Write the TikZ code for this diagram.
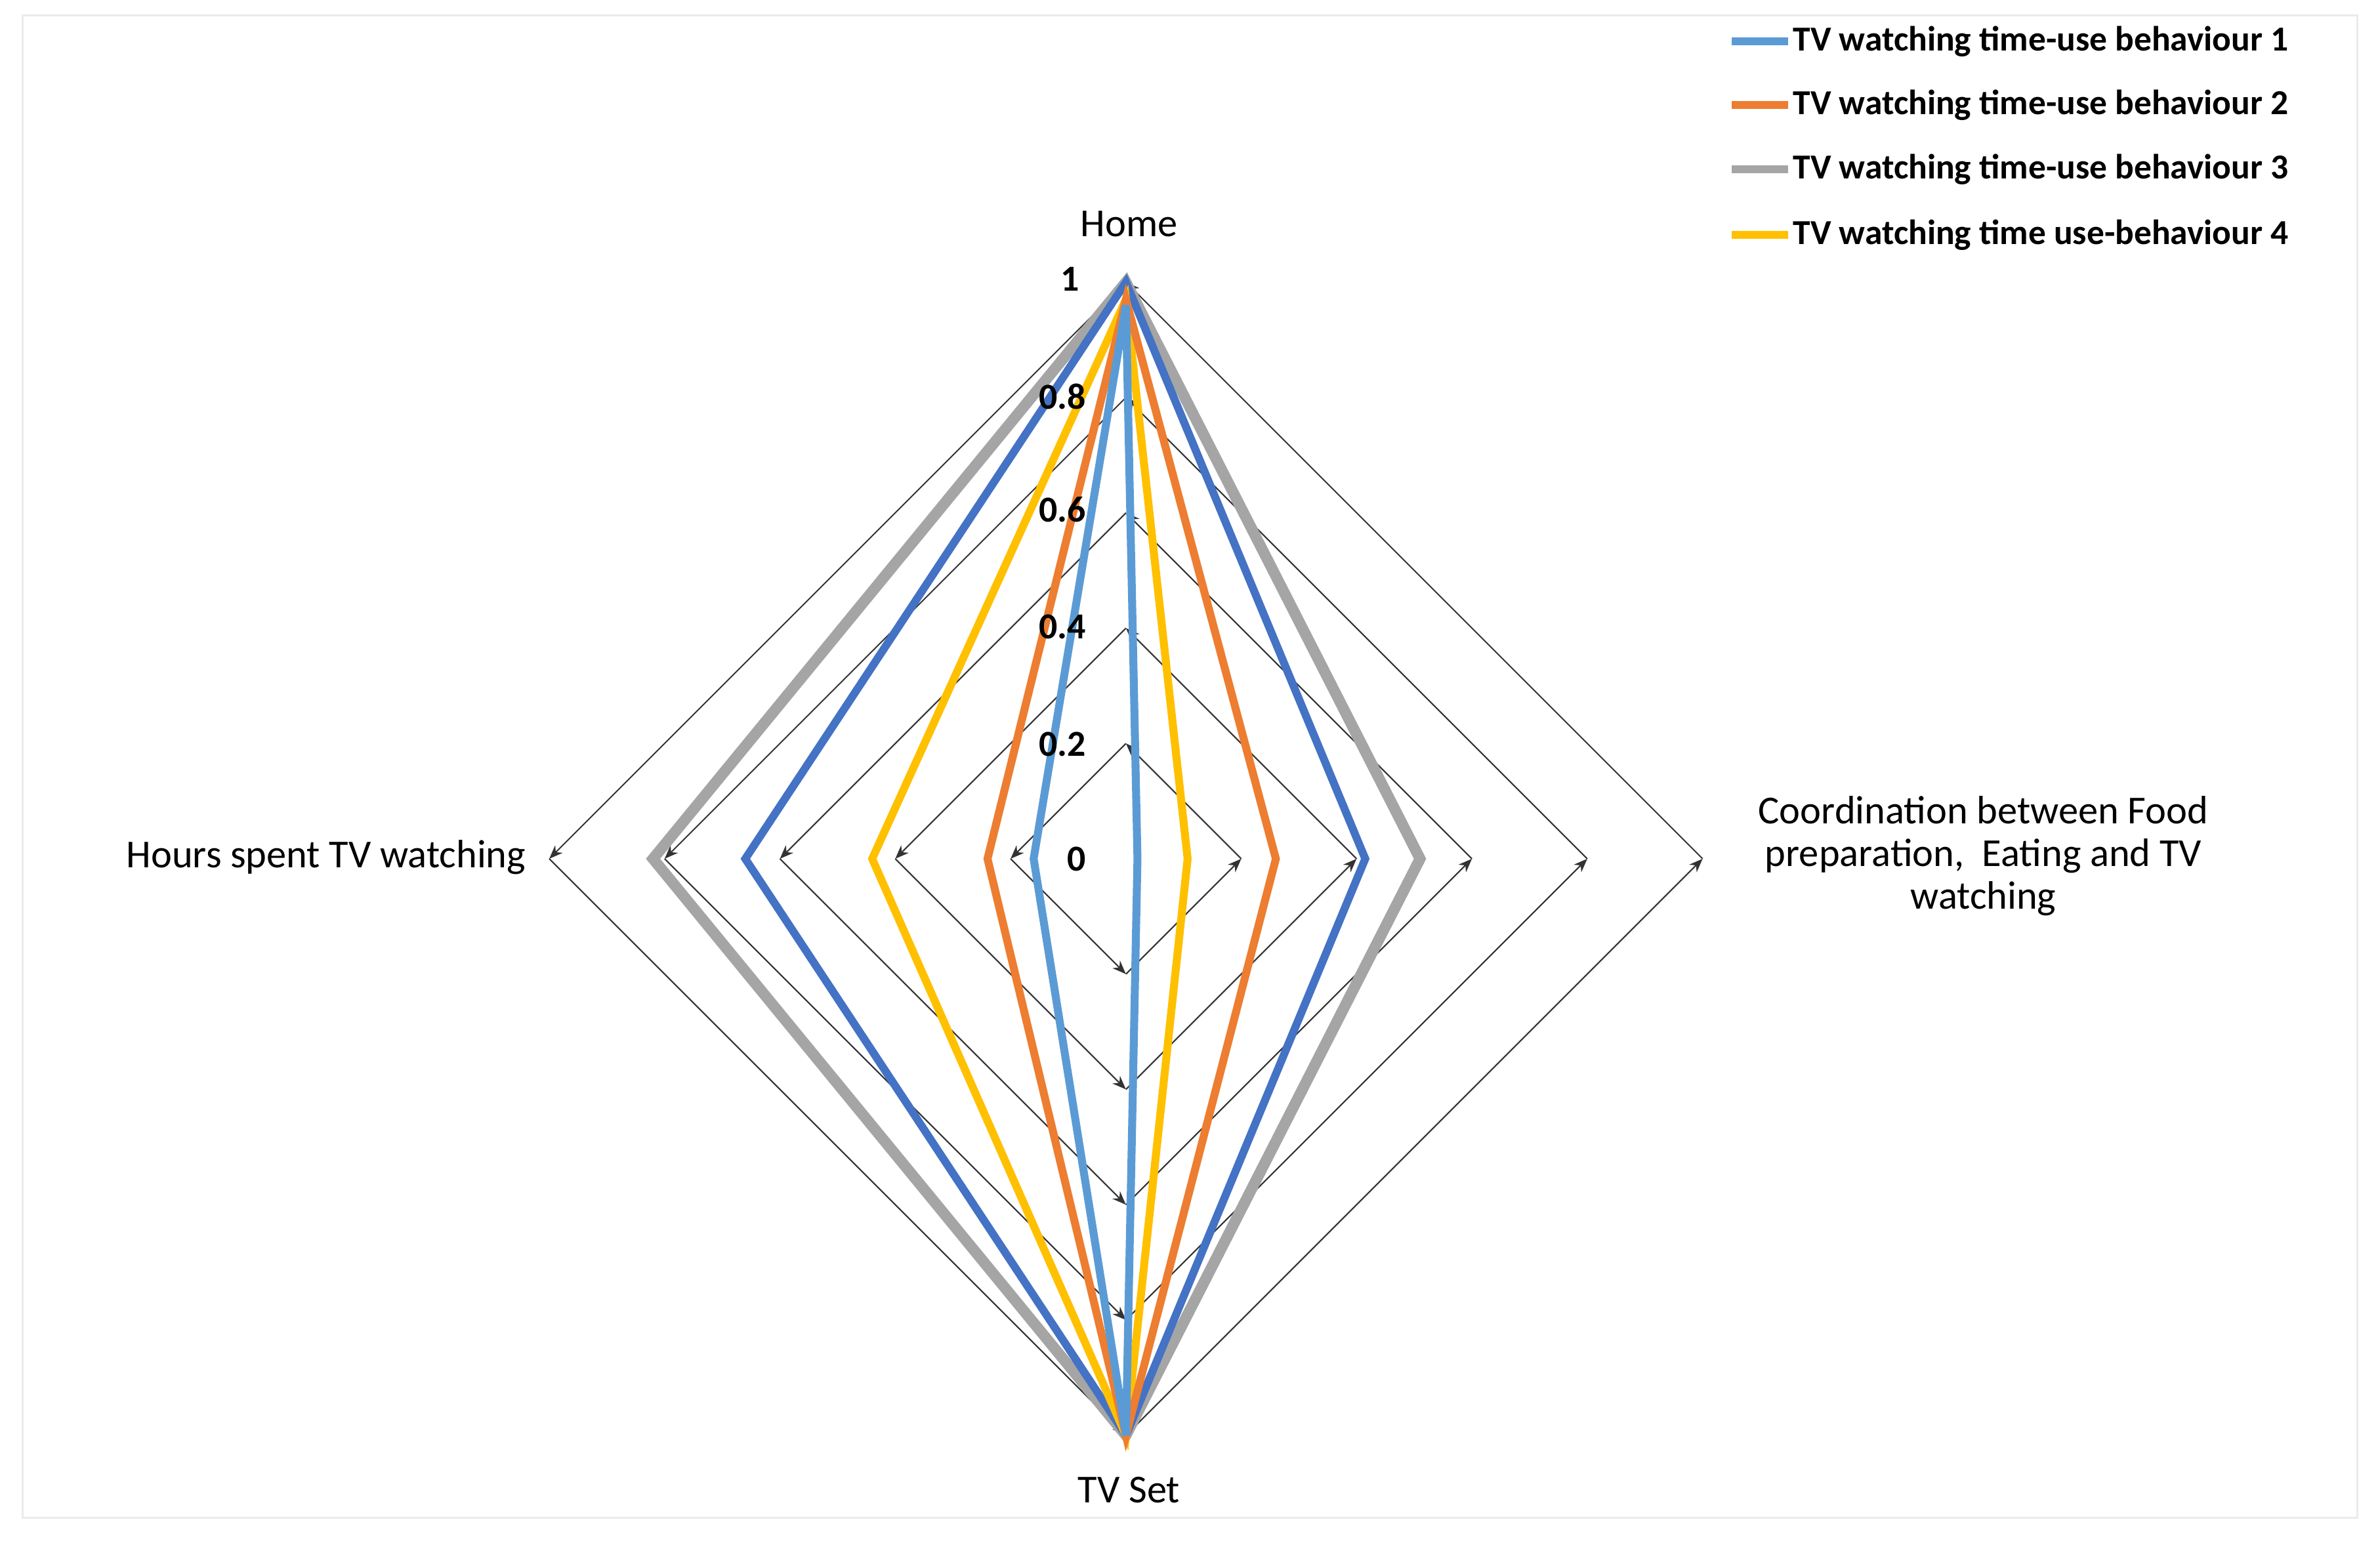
\documentclass[tikz,border=0pt]{standalone}
\usepackage{fontspec}
\setmainfont{Carlito}
\usetikzlibrary{arrows.meta,calc}
\definecolor{sone}{HTML}{5B9BD5}
\definecolor{stwo}{HTML}{ED7D31}
\definecolor{sthree}{HTML}{A5A5A5}
\definecolor{sfour}{HTML}{FFC000}
\definecolor{sdark}{HTML}{4472C4}
\begin{document}
\begin{tikzpicture}[x=0.5pt,y=0.5pt,
  grid/.style={draw=black!80,line width=0.45pt,-{Stealth[length=4.5pt,width=3.5pt]}},
  series/.style={line width=2.6pt,line join=miter,miter limit=10},
  lbl/.style={font=\fontsize{13}{15}\selectfont},
  tick/.style={font=\fontsize{12}{14}\selectfont\bfseries,anchor=east,inner sep=0pt},
  leg/.style={font=\fontsize{11.5}{13}\selectfont\bfseries,anchor=west,inner sep=0pt},
  legline/.style={line width=2.6pt}]
\useasboundingbox (0,0) rectangle (1560,1014);
\fill[white] (0,0) rectangle (1560,1014);
\draw[black!8,line width=0.6pt] (15,19) rectangle (1545,1004);
\coordinate (C) at (738,451);
\def\R{378}
% grid
\foreach \k in {1,...,5}{
  \pgfmathsetmacro{\r}{\R*\k/5}
  \coordinate (t\k) at ($(C)+(0,\r)$);
  \coordinate (l\k) at ($(C)+(-\r,0)$);
  \coordinate (b\k) at ($(C)+(0,-\r)$);
  \coordinate (r\k) at ($(C)+(\r,0)$);
  \draw[grid] (r\k) -- (t\k);
  \draw[grid] (t\k) -- (l\k);
  \draw[grid] (l\k) -- (b\k);
  \draw[grid] (b\k) -- (r\k);
}
% series: top, right, bottom, left values
\newcommand{\radar}[5]{%
  \draw[series,#1] ($(C)+(0,\R*#2)$) -- ($(C)+(\R*#3,0)$) -- ($(C)+(0,-\R*#4)$) -- ($(C)+(-\R*#5,0)$) -- cycle;}
\radar{sthree,line width=3.6pt}{1}{0.51}{1}{0.82}
\radar{sdark}{1}{0.415}{1}{0.66}
\radar{sfour}{0.97}{0.107}{1}{0.44}
\radar{stwo}{0.97}{0.26}{1}{0.24}
\radar{sone}{0.96}{0.02}{1}{0.16}
% ticks
\node[tick] (k0) at (712,451) {0};
\node[tick] (k2) at (712,526) {0.2};
\node[tick] (k4) at (712,603) {0.4};
\node[tick] (k6) at (712,680) {0.6};
\node[tick] (k8) at (712,754) {0.8};
\node[tick] (k10) at (708,831) {1};
% axis labels
\node[lbl] (home) at (740,867) {Home};
\node[lbl] (tvset) at (740,37) {TV Set};
\node[lbl,anchor=east,inner sep=0pt] (hours) at (345,452) {Hours spent TV watching};
\node[lbl,align=center,inner sep=0pt] (coord) at (1300,453) {Coordination between Food\\[-1pt]preparation,\ \ Eating and TV\\[-1pt]watching};
% legend
\foreach \c/\y/\t in {sone/987/{TV watching time-use behaviour 1},stwo/945/{TV watching time-use behaviour 2},sthree/903/{TV watching time-use behaviour 3},sfour/860/{TV watching time use-behaviour 4}}{
  \draw[legline,\c] (1135,\y) -- (1172,\y);
  \node[leg] at (1175,\y) {\t};
}
\end{tikzpicture}
\end{document}
